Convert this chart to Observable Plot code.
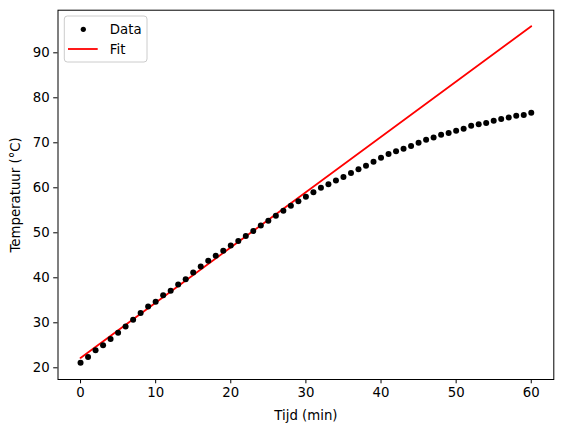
<!DOCTYPE html>
<html>
<head>
<meta charset="utf-8">
<script src="https://cdn.jsdelivr.net/npm/d3@7"></script>
<script src="https://cdn.jsdelivr.net/npm/@observablehq/plot@0.6"></script>
<style>
  body { margin: 0; background: #fff; }
  #wrap { position: relative; width: 562px; height: 432px; font-family: "DejaVu Sans", sans-serif; }
  #legend { position: absolute; left: 0; top: 0; pointer-events: none; }
</style>
</head>
<body>
<div id="wrap"></div>
<script>
// Meetwaarden
const tijd = d3.range(0, 61);
const temperatuur = [
  21.1, 22.4, 23.9, 25.0, 26.4, 27.8, 29.2, 30.7, 32.2, 33.6,
  34.7, 36.1, 37.1, 38.5, 39.7, 41.2, 42.5, 43.8, 44.9, 46.0,
  47.2, 48.2, 49.3, 50.4, 51.6, 52.7, 53.8, 54.9, 56.0, 57.0,
  58.0, 59.0, 60.0, 60.8, 61.6, 62.4, 63.3, 64.1, 64.9, 65.8,
  66.7, 67.5, 68.1, 68.7, 69.3, 70.0, 70.7, 71.2, 71.8, 72.2,
  72.7, 73.1, 73.8, 74.1, 74.4, 74.9, 75.3, 75.6, 76.0, 76.2,
  76.7
];

// Lineaire fit: eindpunten
const fitTijd = [0, 60];
const fitTemp = [22.2, 95.9];

const xTicks = [0, 10, 20, 30, 40, 50, 60];
const yTicks = [20, 30, 40, 50, 60, 70, 80, 90];

const data = tijd.map((t, i) => ({t, T: temperatuur[i]}));
const fit = fitTijd.map((t, i) => ({t, T: fitTemp[i]}));

const W = 562, H = 432;
const mL = 57.5, mR = 8.7, mT = 9.7, mB = 53;
const FS = 13.3;

const chart = Plot.plot({
  width: W,
  height: H,
  marginLeft: mL,
  marginRight: mR,
  marginTop: mT,
  marginBottom: mB,
  style: { fontFamily: "'DejaVu Sans', sans-serif", fontSize: FS + "px", color: "#000", background: "#fff" },
  x: { domain: [-3, 63] },
  y: { domain: [17.4, 99.47] },
  marks: [
    Plot.axisX({ ticks: xTicks, tickSize: 4.3, tickPadding: 3.5, tickFormat: d3.format("d"),
      label: "Tijd (min)", labelAnchor: "center", labelArrow: "none", labelOffset: 40, fontSize: FS }),
    Plot.axisY({ ticks: yTicks, tickSize: 4.3, tickPadding: 4, tickFormat: d3.format("d"),
      label: "Temperatuur (°C)", labelAnchor: "center", labelArrow: "none", labelOffset: 47, fontSize: FS }),
    Plot.line(fit, { x: "t", y: "T", stroke: "red", strokeWidth: 1.8 }),
    Plot.dot(data, { x: "t", y: "T", r: 3, fill: "black", stroke: "none" }),
    Plot.frame({ stroke: "black", strokeWidth: 1 })
  ]
});

const wrap = document.getElementById("wrap");
wrap.appendChild(chart);

// Legenda (linksboven, in matplotlib-stijl)
const lg = d3.select(wrap).append("svg")
  .attr("id", "legend")
  .attr("width", W).attr("height", H);
const g = lg.append("g").attr("transform", `translate(${mL + 6.8},${mT + 6.3})`);
g.append("rect")
  .attr("x", 0).attr("y", 0).attr("width", 82.7).attr("height", 46)
  .attr("rx", 3).attr("fill", "rgba(255,255,255,0.8)")
  .attr("stroke", "#cccccc").attr("stroke-width", 1);
g.append("circle").attr("cx", 19).attr("cy", 13.3).attr("r", 2.6).attr("fill", "black");
g.append("line").attr("x1", 3.7).attr("x2", 33.4).attr("y1", 33).attr("y2", 33)
  .attr("stroke", "red").attr("stroke-width", 1.8);
g.append("text").attr("x", 45.5).attr("y", 13.3).attr("dy", "0.35em")
  .attr("font-size", FS).attr("font-family", "DejaVu Sans, sans-serif").text("Data");
g.append("text").attr("x", 45.5).attr("y", 33).attr("dy", "0.35em")
  .attr("font-size", FS).attr("font-family", "DejaVu Sans, sans-serif").text("Fit");
</script>
</body>
</html>
